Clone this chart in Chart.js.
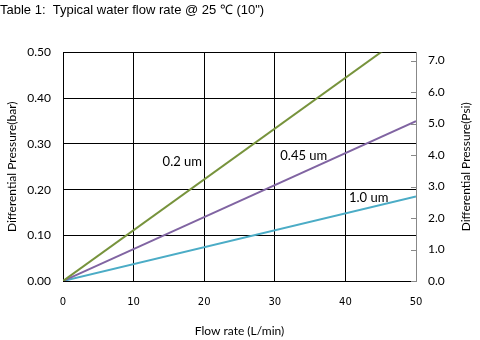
<!DOCTYPE html>
<html>
<head>
<meta charset="utf-8">
<script src="https://cdn.jsdelivr.net/npm/chart.js@4/dist/chart.umd.min.js"></script>
<style>
  html, body { margin: 0; padding: 0; background: #fff; }
  #wrap { width: 480px; height: 340px; }
</style>
</head>
<body>
<div id="wrap"><canvas id="flowChart" width="480" height="340"></canvas></div>
<script>
// chart values
const flowRates = [0, 50];
const dp02 = [0, 0.556];   // 0.2 um, hits 0.50 bar at ~45 L/min
const dp045 = [0, 0.35];
const dp10 = [0, 0.185];
const seriesNames = ['0.2 um', '0.45 um', '1.0 um'];
const seriesColors = ['#77933C', '#8064A2', '#4BACC6'];
// where the series labels sit (data units)
const labelX = [16.9, 34.1, 43.3];
const labelY = [0.26, 0.275, 0.183];
const barTicks = [0, 0.1, 0.2, 0.3, 0.4, 0.5];
const psiMax = 0.5 * 14.5038;
const psiTitle = 'Differential Pressure(Psi)';

function toPoints(ys) {
  return flowRates.map((x, i) => ({ x: x, y: ys[i] }));
}

// series names written inside the plot
const seriesLabels = {
  id: 'seriesLabels',
  afterDatasetsDraw(chart) {
    const ctx = chart.ctx;
    const xs = chart.scales.x, ys = chart.scales.y;
    ctx.save();
    ctx.font = '13px Lato';
    ctx.fillStyle = '#000';
    ctx.textAlign = 'center';
    ctx.textBaseline = 'middle';
    seriesNames.forEach((name, i) => {
      ctx.fillText(name, xs.getPixelForValue(labelX[i]), ys.getPixelForValue(labelY[i]));
    });
    ctx.restore();
  }
};

// inward tick marks on the right (psi) axis + its title reading bottom-to-top
const psiAxisExtras = {
  id: 'psiAxisExtras',
  afterDraw(chart) {
    const s = chart.scales.y1;
    const ctx = chart.ctx;
    ctx.save();
    ctx.strokeStyle = '#888';
    ctx.lineWidth = 1;
    s.ticks.forEach(t => {
      const y = Math.round(s.getPixelForValue(t.value)) + 0.5;
      ctx.beginPath();
      ctx.moveTo(s.left - 5, y);
      ctx.lineTo(s.left, y);
      ctx.stroke();
    });
    ctx.translate(s.right - 14, (s.top + s.bottom) / 2);
    ctx.rotate(-Math.PI / 2);
    ctx.font = '12px Lato';
    ctx.fillStyle = '#000';
    ctx.textAlign = 'center';
    ctx.textBaseline = 'middle';
    ctx.fillText(psiTitle, 0, 0);
    ctx.restore();
  }
};

const ctx = document.getElementById('flowChart').getContext('2d');
new Chart(ctx, {
  type: 'line',
  data: {
    datasets: [
      { label: seriesNames[0], data: toPoints(dp02), borderColor: seriesColors[0], borderWidth: 2, pointRadius: 0, yAxisID: 'y' },
      { label: seriesNames[1], data: toPoints(dp045), borderColor: seriesColors[1], borderWidth: 2, pointRadius: 0, yAxisID: 'y' },
      { label: seriesNames[2], data: toPoints(dp10), borderColor: seriesColors[2], borderWidth: 2, pointRadius: 0, yAxisID: 'y' }
    ]
  },
  options: {
    responsive: false,
    animation: false,
    layout: { padding: { left: 0, right: 0, top: 0, bottom: 0 } },
    plugins: {
      legend: { display: false },
      tooltip: { enabled: false },
      title: {
        display: true,
        text: 'Table 1:  Typical water flow rate @ 25 \u2103 (10")',
        align: 'start',
        color: '#000',
        font: { family: 'Liberation Sans', size: 13, weight: 'normal' },
        padding: { top: 3, bottom: 34 }
      }
    },
    scales: {
      x: {
        type: 'linear',
        min: 0,
        max: 50,
        ticks: { stepSize: 10, color: '#000', font: { family: 'DejaVu Sans', size: 10 }, padding: 15 },
        grid: { color: '#000', lineWidth: 1, drawTicks: false },
        border: { color: '#000' },
        title: { display: true, text: 'Flow rate (L/min)', color: '#000', font: { family: 'Lato', size: 12 }, padding: { top: 0, bottom: 2 } },
        afterFit(scale) { scale.height = 59; }
      },
      y: {
        position: 'left',
        min: 0,
        max: 0.5,
        afterBuildTicks(scale) { scale.ticks = barTicks.map(v => ({ value: v })); },
        ticks: { color: '#000', font: { family: 'Lato', size: 12 }, padding: 12, callback: v => v.toFixed(2) },
        grid: { color: '#000', lineWidth: 1, drawTicks: false },
        border: { color: '#000' },
        title: { display: true, text: 'Differential Pressure(bar)', color: '#000', font: { family: 'Lato', size: 12 }, padding: { top: 5, bottom: 0 } },
        afterFit(scale) { scale.width = 63; }
      },
      y1: {
        position: 'right',
        min: 0,
        max: psiMax,
        ticks: { stepSize: 1, includeBounds: false, color: '#000', font: { family: 'Lato', size: 12 }, padding: 12, callback: v => v.toFixed(1) },
        grid: { drawOnChartArea: false, drawTicks: false },
        border: { color: '#888' },
        afterFit(scale) { scale.width = 64; }
      }
    }
  },
  plugins: [seriesLabels, psiAxisExtras]
});
</script>
</body>
</html>
